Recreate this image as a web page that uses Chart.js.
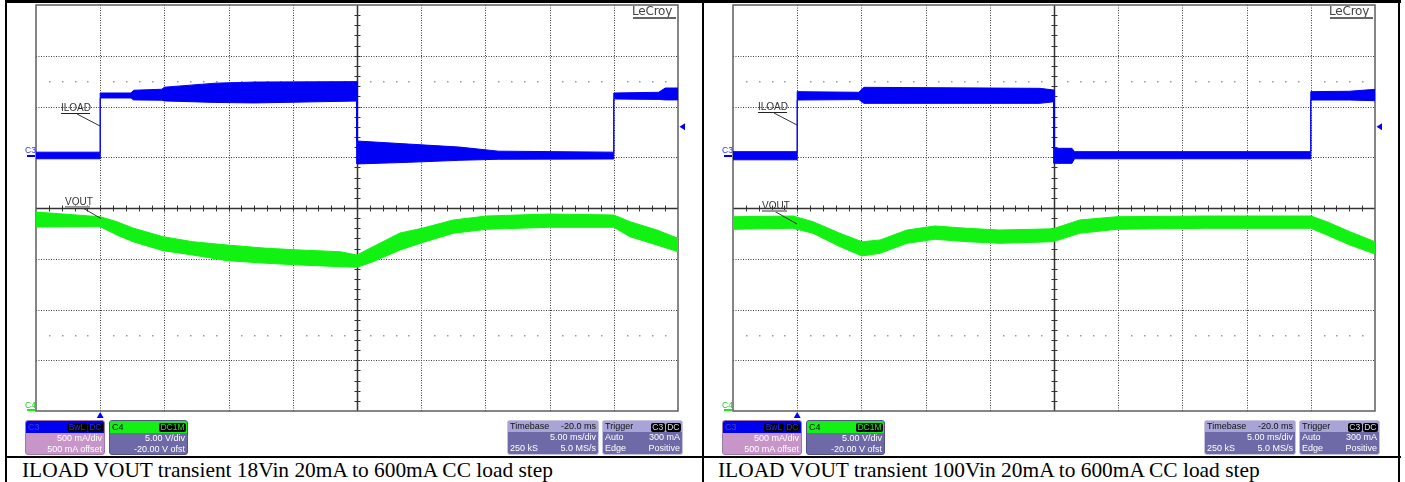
<!DOCTYPE html>
<html>
<head>
<meta charset="utf-8">
<script src="https://cdn.jsdelivr.net/npm/chart.js@4.4.1/dist/chart.umd.min.js"></script>
<style>
html, body { margin: 0; padding: 0; background: #fff; }
body { width: 1405px; height: 482px; position: relative; overflow: hidden; font-family: "Liberation Sans", Arial, sans-serif; }
.rule { position: absolute; background: #000; }
.panel { position: absolute; top: 0; width: 697px; height: 457px; }
.panel canvas { position: absolute; left: 0; top: 0; }
.logo { position: absolute; left: 632px; top: 5px; font: 12px "DejaVu Sans", sans-serif; color: #444; line-height: 12px; letter-spacing: -0.2px; }
.logo-ul { position: absolute; left: 633px; top: 17px; width: 43px; height: 1.5px; background: #666; }
.lbl { position: absolute; font-size: 10px; line-height: 10px; color: #333; }
.ul-i { position: absolute; height: 1px; background: #222; }
.ul-v { position: absolute; height: 2px; background: #9a9a9a; }
.gnd { position: absolute; width: 10px; text-align: right; font-size: 8.5px; line-height: 9px; }
.box { position: absolute; top: 420px; height: 35px; border-radius: 3px; overflow: hidden; box-sizing: border-box;
       font-size: 9px; color: #fff; }
.box .hd { height: 12px; position: relative; line-height: 12px; }
.box .nm { position: absolute; left: 2px; top: 0; }
.box .bdgs { position: absolute; right: 1px; top: 2px; height: 9px; line-height: 9px; }
.bdg { display: inline-block; background: #000; border-radius: 2px; padding: 0 1.5px; font-size: 8.5px; margin-left: 1px; }
.box .row { text-align: right; padding-right: 2px; height: 10.5px; line-height: 11px; }
.c3 { width: 80px; background: #c895c9; border: 1px solid #9f78a8; }
.c3 .hd { background: #0000f0; color: #4040b0; }
.c3 .bdg { color: #2a2aff; }
.c4 { width: 79px; background: #6d6aa7; border: 1px solid #55528a; }
.c4 .hd { background: #14f014; color: #000; }
.c4 .bdg { color: #14f014; }
.tb { background: #6d6aa7; border: 1px solid #c6c4e6; }
.tb .r { display: flex; justify-content: space-between; padding: 0 2px; height: 11px; line-height: 11px; }
.tb .r1 { color: #111; background: #a8a5d6; }
.tb .bdg { color: #ddd; }
.caption { position: absolute; top: 460px; font: 21.4px "Liberation Serif", "Times New Roman", serif; line-height: 21px; color: #000; white-space: nowrap; }
</style>
</head>
<body>
<div class="rule" style="left:5px;top:0;width:1396px;height:3px"></div>
<div class="rule" style="left:5px;top:0;width:2px;height:482px"></div>
<div class="rule" style="left:702px;top:0;width:2px;height:482px"></div>
<div class="rule" style="left:1398px;top:0;width:2px;height:482px"></div>
<div class="rule" style="left:5px;top:456px;width:1396px;height:2px"></div>

<div class="panel" id="p18" style="left:0"></div>
<div class="panel" id="p100" style="left:697px"></div>

<div class="caption" style="left:22px">ILOAD VOUT transient 18Vin 20mA to 600mA CC load step</div>
<div class="caption" style="left:718px">ILOAD VOUT transient 100Vin 20mA to 600mA CC load step</div>

<script>
'use strict';

// time axis in ms: 5 ms/div, trigger at 0, timebase delay -20 ms
var timeMin = -5;
var timeMax = 45;

// C3: 500 mA/div, 500 mA offset  -> screen range -2500..1500 mA
var currentMin = -2500;
var currentMax = 1500;
// C4: 5 V/div, -20 V offset -> screen range 0..40 V
var voltMin = 0;
var voltMax = 40;
var triggerLevelMa = 300;

// ---- 18 Vin shot: envelope of the noisy traces ----
var iloadTime18 = [-5, 0, 0, 2.4, 2.6, 4.8, 5.0, 9, 12, 20, 20, 24, 28, 31, 40, 40, 43.5, 44, 45];
var iloadHigh18 = [50, 50, 633, 633, 660, 670, 690, 730, 741, 745, 160, 130, 100, 60, 50, 633, 640, 682, 682];
var iloadLow18  = [-15, -15, 584, 584, 565, 562, 555, 540, 535, 554, -66, -50, -30, -20, -17, 574, 570, 565, 565];

var voutTime18 = [-5, 0, 1.3, 2.55, 4.9, 7.2, 9.9, 13, 15.6, 18.7, 20, 21.25, 23.35, 25.06, 27.5, 30.1, 35, 40, 41.26, 43.36, 45];
var voutHigh18 = [19.6, 19.14, 18.65, 18.03, 17.17, 16.68, 16.35, 16.03, 15.86, 15.69, 15.37, 16.19, 17.54, 18.0, 18.82, 19.21, 19.41, 19.31, 18.65, 17.83, 17.01];
var voutLow18  = [18.13, 18.16, 17.34, 16.68, 15.79, 15.37, 14.81, 14.55, 14.38, 14.22, 14.16, 14.71, 15.86, 16.58, 17.51, 17.9, 18.1, 18.1, 17.17, 16.35, 15.69];

// ---- 100 Vin shot ----
var iloadTime100 = [-5, 0, 0, 4.8, 5.2, 18.9, 20, 20, 21.4, 21.6, 40, 40, 43, 45];
var iloadHigh100 = [55, 55, 646, 640, 689, 679, 662, 88, 88, 55, 55, 646, 650, 669];
var iloadLow100  = [-25, -25, 564, 568, 531, 531, 547, -60, -60, -15, -15, 564, 564, 557];

var voutTime100 = [-5, -0.33, 1.23, 3.33, 5.05, 6.45, 8.55, 10.73, 13.22, 15.79, 19.92, 22.0, 24.9, 31.9, 40, 41.25, 43.04, 45];
var voutHigh100 = [19.14, 19.21, 18.65, 17.51, 16.68, 16.85, 17.83, 18.23, 18.0, 17.83, 17.95, 18.82, 19.14, 19.21, 19.21, 18.65, 17.67, 16.68];
var voutLow100  = [17.9, 18.0, 17.51, 16.19, 15.27, 15.54, 16.52, 16.92, 16.68, 16.52, 16.68, 17.51, 17.9, 18.0, 18.0, 17.34, 16.35, 15.47];

var BLUE = '#0000f5';
var GREEN = '#12f212';

function pts(t, v) {
  return t.map(function(x, i) { return { x: x, y: v[i] }; });
}

function seg(ctx, x1, y1, x2, y2) {
  ctx.beginPath();
  ctx.moveTo(x1, y1);
  ctx.lineTo(x2, y2);
  ctx.stroke();
}

// graticule: dotted divisions, centre cross with minor ticks, 2.5 div dot rows
var scopeGrid = {
  id: 'scopeGrid',
  beforeDatasetsDraw: function(chart) {
    var ctx = chart.ctx, a = chart.chartArea;
    var sx = chart.scales.x, sv = chart.scales.yV;
    var t, v, px, py;
    ctx.save();
    ctx.lineWidth = 1;
    ctx.strokeStyle = '#3a3a3a';
    ctx.setLineDash([1, 1.5]);
    for (t = timeMin + 5; t < timeMax; t += 5) {
      if (t === 20) continue;
      px = Math.round(sx.getPixelForValue(t)) + 0.5;
      seg(ctx, px, a.top, px, a.bottom);
    }
    for (v = voltMin + 5; v < voltMax; v += 5) {
      if (v === 20) continue;
      py = Math.round(sv.getPixelForValue(v)) + 0.5;
      seg(ctx, a.left, py, a.right, py);
    }
    ctx.setLineDash([]);

    ctx.fillStyle = '#9a9a9a';
    [7.5, 32.5].forEach(function(row) {
      py = Math.round(sv.getPixelForValue(row));
      for (t = timeMin + 1; t < timeMax; t += 1) {
        if ((t - timeMin) % 5 === 0) continue;
        px = Math.round(sx.getPixelForValue(t));
        ctx.fillRect(px, py, 1.5, 1.5);
      }
    });

    var cx = Math.round(sx.getPixelForValue(20)) + 0.5;
    var cy = Math.round(sv.getPixelForValue(20)) + 0.5;
    ctx.strokeStyle = '#333';
    ctx.lineWidth = 1.5;
    seg(ctx, a.left, cy, a.right, cy);
    seg(ctx, cx, a.top, cx, a.bottom);
    ctx.lineWidth = 1;
    for (t = timeMin + 1; t < timeMax; t += 1) {
      px = Math.round(sx.getPixelForValue(t)) + 0.5;
      seg(ctx, px, cy - 3, px, cy + 3);
    }
    for (v = voltMin + 1; v < voltMax; v += 1) {
      py = Math.round(sv.getPixelForValue(v)) + 0.5;
      seg(ctx, cx - 3, py, cx + 3, py);
    }

    ctx.strokeStyle = '#5e5e5e';
    ctx.lineWidth = 1.5;
    ctx.strokeRect(a.left, a.top, a.right - a.left, a.bottom - a.top);
    ctx.restore();
  }
};

// trigger markers, ground markers and the label leader lines
var scopeMarks = {
  id: 'scopeMarks',
  afterDatasetsDraw: function(chart, args, opts) {
    var ctx = chart.ctx, a = chart.chartArea;
    var sx = chart.scales.x, si = chart.scales.yI, sv = chart.scales.yV;
    ctx.save();
    var tx = sx.getPixelForValue(0);
    ctx.fillStyle = BLUE;
    ctx.beginPath();
    ctx.moveTo(tx, a.bottom + 1);
    ctx.lineTo(tx - 3.5, a.bottom + 7);
    ctx.lineTo(tx + 3.5, a.bottom + 7);
    ctx.closePath();
    ctx.fill();

    var ly = si.getPixelForValue(triggerLevelMa);
    ctx.beginPath();
    ctx.moveTo(a.right + 1.5, ly);
    ctx.lineTo(a.right + 7, ly - 3.5);
    ctx.lineTo(a.right + 7, ly + 3.5);
    ctx.closePath();
    ctx.fill();

    ctx.lineWidth = 2;
    ctx.strokeStyle = BLUE;
    var g3 = Math.round(si.getPixelForValue(0)) - 1;
    seg(ctx, a.left - 9, g3, a.left - 1, g3);
    ctx.strokeStyle = GREEN;
    var g4 = Math.round(sv.getPixelForValue(0)) - 1;
    seg(ctx, a.left - 9, g4, a.left - 1, g4);

    ctx.lineWidth = 1;
    ctx.strokeStyle = '#333';
    (opts.leaders || []).forEach(function(l) { seg(ctx, l[0], l[1], l[2], l[3]); });
    ctx.restore();
  }
};

function makeScope(canvasId, tI, hiI, loI, tV, hiV, loV, leaders) {
  var trace = { pointRadius: 0, borderWidth: 1, tension: 0 };
  new Chart(document.getElementById(canvasId), {
    type: 'line',
    data: {
      datasets: [
        Object.assign({ data: pts(tV, hiV), yAxisID: 'yV', borderColor: GREEN, backgroundColor: GREEN, fill: '+1' }, trace),
        Object.assign({ data: pts(tV, loV), yAxisID: 'yV', borderColor: GREEN, fill: false }, trace),
        Object.assign({ data: pts(tI, hiI), yAxisID: 'yI', borderColor: BLUE, backgroundColor: BLUE, fill: '+1' }, trace),
        Object.assign({ data: pts(tI, loI), yAxisID: 'yI', borderColor: BLUE, fill: false }, trace),
      ],
    },
    options: {
      responsive: false,
      animation: false,
      events: [],
      layout: { padding: { left: 36, right: 12, top: 5, bottom: 13 } },
      plugins: {
        legend: { display: false },
        tooltip: { enabled: false },
        scopeMarks: { leaders: leaders },
      },
      scales: {
        x: { type: 'linear', min: timeMin, max: timeMax, display: false },
        yI: { type: 'linear', min: currentMin, max: currentMax, display: false },
        yV: { type: 'linear', min: voltMin, max: voltMax, display: false },
      },
    },
    plugins: [scopeGrid, scopeMarks],
  });
}

function buildPanel(host, p) {
  host.innerHTML =
    '<canvas id="' + p.canvasId + '" width="690" height="424"></canvas>' +
    '<div class="logo">LeCroy</div><div class="logo-ul"></div>' +
    '<div class="lbl" style="left:61px;top:' + p.iloadTop + 'px">ILOAD</div>' +
    '<div class="ul-i" style="left:61px;width:29px;top:' + (p.iloadTop + 9.5) + 'px"></div>' +
    '<div class="lbl" style="left:65px;top:' + p.voutTop + 'px">VOUT</div>' +
    '<div class="ul-v" style="left:65px;width:25px;top:' + (p.voutTop + 9) + 'px"></div>' +
    '<div class="gnd" style="left:25px;top:146px;color:#2a2aff">C3</div>' +
    '<div class="gnd" style="left:25px;top:401px;color:#1ed01e">C4</div>' +
    '<div class="box c3" style="left:25px">' +
      '<div class="hd"><span class="nm">C3</span><span class="bdgs"><span class="bdg">BwL</span><span class="bdg">DC</span></span></div>' +
      '<div class="row">500 mA/div</div><div class="row">500 mA offset</div></div>' +
    '<div class="box c4" style="left:109px">' +
      '<div class="hd"><span class="nm">C4</span><span class="bdgs"><span class="bdg">DC1M</span></span></div>' +
      '<div class="row">5.00 V/div</div><div class="row">-20.00 V ofst</div></div>' +
    '<div class="box tb" style="left:507px;width:92px">' +
      '<div class="r r1"><span>Timebase</span><span>-20.0 ms</span></div>' +
      '<div class="r"><span></span><span>5.00 ms/div</span></div>' +
      '<div class="r"><span>250 kS</span><span>5.0 MS/s</span></div></div>' +
    '<div class="box tb" style="left:602px;width:81px">' +
      '<div class="r r1"><span>Trigger</span><span class="bdgs"><span class="bdg">C3</span><span class="bdg">DC</span></span></div>' +
      '<div class="r"><span>Auto</span><span>300 mA</span></div>' +
      '<div class="r"><span>Edge</span><span>Positive</span></div></div>';
}

buildPanel(document.getElementById('p18'), { canvasId: 'scope18', iloadTop: 103, voutTop: 196.5 });
buildPanel(document.getElementById('p100'), { canvasId: 'scope100', iloadTop: 102, voutTop: 201 });

makeScope('scope18', iloadTime18, iloadHigh18, iloadLow18, voutTime18, voutHigh18, voutLow18,
  [[77, 114, 100, 126], [82, 207.5, 101, 218.5]]);
makeScope('scope100', iloadTime100, iloadHigh100, iloadLow100, voutTime100, voutHigh100, voutLow100,
  [[77, 113, 100, 125], [78, 211.5, 100, 224]]);
</script>
</body>
</html>
